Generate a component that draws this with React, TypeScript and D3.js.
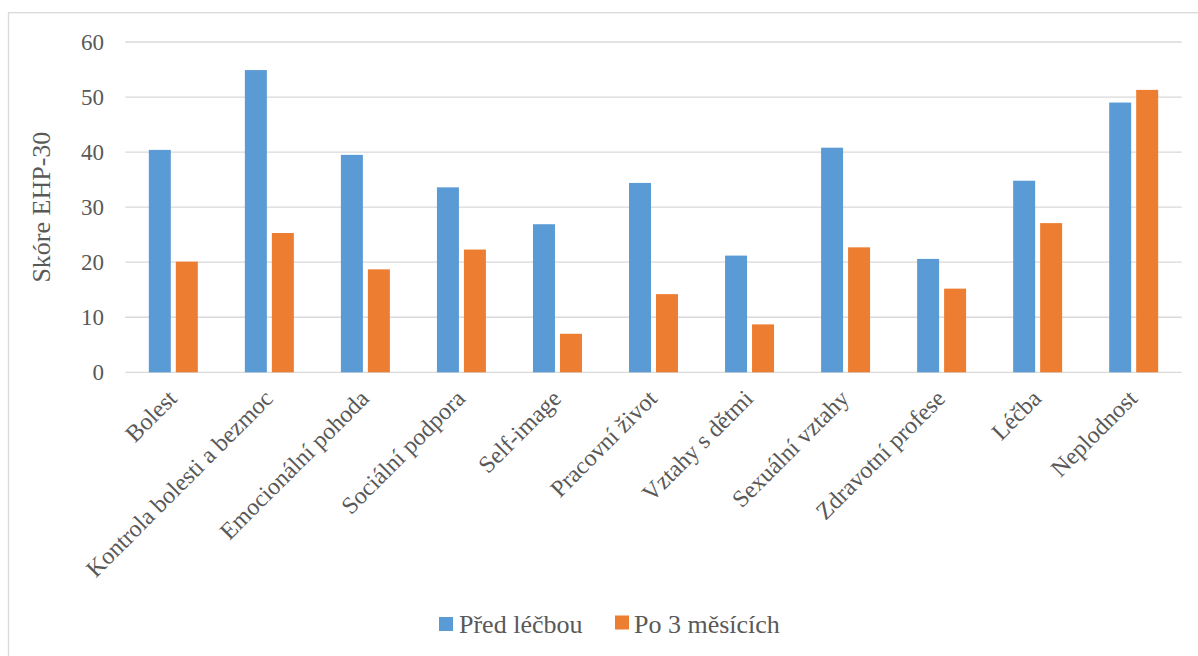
import React from "react";
import * as d3 from "d3";

const categories = [
  "Bolest",
  "Kontrola bolesti a bezmoc",
  "Emocionální pohoda",
  "Sociální podpora",
  "Self-image",
  "Pracovní život",
  "Vztahy s dětmi",
  "Sexuální vztahy",
  "Zdravotní profese",
  "Léčba",
  "Neplodnost",
];
const before = [40.4, 54.9, 39.5, 33.6, 26.9, 34.4, 21.2, 40.8, 20.6, 34.8, 49.0];
const after = [20.1, 25.3, 18.7, 22.3, 7.0, 14.2, 8.7, 22.7, 15.2, 27.1, 51.3];
const seriesNames = ["Před léčbou", "Po 3 měsících"];
const colors = ["#5B9BD5", "#ED7D31"];
const yTicks = [0, 10, 20, 30, 40, 50, 60];
const yTitle = "Skóre EHP-30";

const W = 1198;
const H = 656;
const FONT = "Liberation Serif, serif";
const TEXT = "#595959";
const GRID = "#D9D9D9";

export default function App() {
  const left = 125.3;
  const right = 1181.7;
  const top = 42;
  const bottom = 372.3;

  const x = d3.scaleBand<string>().domain(categories).range([left, right]).padding(0);
  const y = d3.scaleLinear().domain([0, 60]).range([bottom, top]);
  const bw = x.bandwidth();
  const barW = bw * 0.229;
  const gap = bw * 0.052;
  const x1 = d3
    .scaleOrdinal<number, number>()
    .domain([0, 1])
    .range([-(barW + gap / 2), gap / 2]);

  const series = [before, after];
  const txt = { fontFamily: FONT, fill: TEXT } as React.CSSProperties;

  return (
    <svg
      width={W}
      height={H}
      style={{ position: "absolute", left: 0, top: 0, display: "block", background: "#fff", fontFamily: FONT }}
    >
      <rect x={0} y={0} width={W} height={H} fill="#fff" />
      <rect x={8.5} y={12.7} width={W + 20} height={H + 20} fill="none" stroke={GRID} strokeWidth={1.3} />

      {yTicks.map((t) => (
        <g key={t}>
          <line x1={left} x2={right} y1={y(t)} y2={y(t)} stroke={GRID} strokeWidth={1.3} />
          <text x={104} y={y(t)} dy="0.35em" textAnchor="end" fontSize={23} style={txt}>
            {t}
          </text>
        </g>
      ))}

      <text
        transform={`translate(50, ${(top + bottom) / 2}) rotate(-90)`}
        textAnchor="middle"
        fontSize={26}
        style={txt}
      >
        {yTitle}
      </text>

      {series.map((vals, si) =>
        vals.map((v, i) => {
          const cx = (x(categories[i]) as number) + bw / 2;
          return (
            <rect
              key={`${si}-${i}`}
              x={cx + (x1(si) as number)}
              y={y(v)}
              width={barW}
              height={y(0) - y(v)}
              fill={colors[si]}
            />
          );
        })
      )}

      {categories.map((c) => {
        const cx = (x(c) as number) + bw / 2;
        return (
          <text
            key={c}
            transform={`translate(${cx + 5}, 400) rotate(-45)`}
            textAnchor="end"
            fontSize={24}
            style={txt}
          >
            {c}
          </text>
        );
      })}

      <g>
        <rect x={439} y={617} width={14} height={14} fill={colors[0]} />
        <text x={459} y={632.7} fontSize={26} style={txt}>
          {seriesNames[0]}
        </text>
        <rect x={615} y={615.5} width={14} height={14} fill={colors[1]} />
        <text x={634} y={632.7} fontSize={26} style={txt}>
          {seriesNames[1]}
        </text>
      </g>
    </svg>
  );
}
